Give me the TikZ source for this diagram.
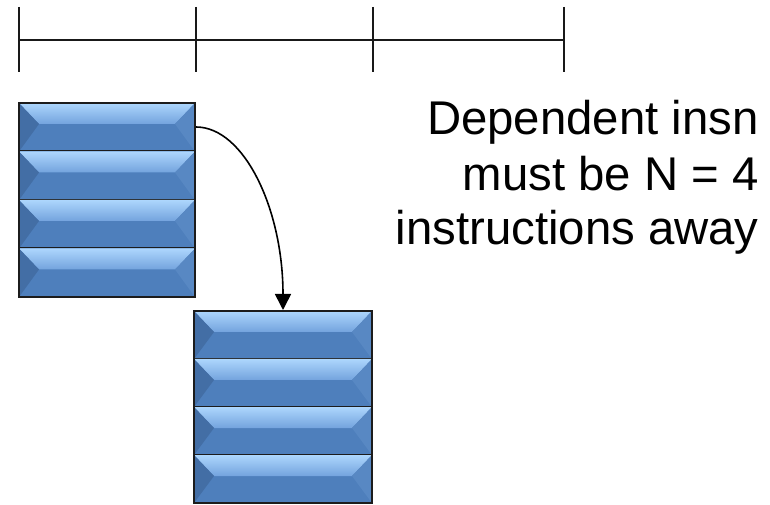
\documentclass[tikz,border=0pt]{standalone}
\usepackage{fontspec}
\setmainfont{Liberation Sans}
\usetikzlibrary{arrows.meta}

\definecolor{bevtop}{HTML}{ADD6FD}
\definecolor{bevtopend}{HTML}{73A3DD}
\definecolor{bevmid}{HTML}{4E7FBC}
\definecolor{bevleft}{HTML}{436EA5}
\definecolor{bevright}{HTML}{5888C3}
\definecolor{framecol}{HTML}{1C1C1C}

% one bevelled row: #1,#2 = top-left, #3,#4 = bottom-right (pixel units)
\newcommand{\bevelrow}[4]{%
  \fill[bevmid] (#1,#2) rectangle (#3,#4);
  \shade[top color=bevtop, bottom color=bevtopend]
    (#1,#2) -- (#3,#2) -- (#3-20,#2+21) -- (#1+20,#2+21) -- cycle;
  \fill[bevleft] (#1,#2) -- (#1+20,#2+21) -- (#1,#4) -- cycle;
  \fill[bevright] (#3,#2) -- (#3-20,#2+21) -- (#3,#4) -- cycle;
  \draw[rowline] (#1,#4) -- (#3,#4);
}

% stack of four rows: #1,#2 = top-left, #3 = right edge, #4 = row height
\newcommand{\insnstack}[4]{%
  \foreach \k in {0,1,2,3} {
    \bevelrow{#1}{#2+\k*#4}{#3}{#2+\k*#4+#4}
  }
  \draw[blockframe] (#1,#2) rectangle (#3,#2+4*#4);
}

\begin{document}
\begin{tikzpicture}[x=0.75pt, y=-0.75pt,
  timeline/.style={line width=1.6pt, draw=black!90},
  rowline/.style={line width=1.6pt, draw=framecol},
  blockframe/.style={line width=2.2pt, draw=framecol},
  depedge/.style={line width=1.2pt, -{Triangle[length=12pt, width=12pt]}},
  label/.style={font=\fontsize{35.5}{40}\selectfont, inner sep=0pt, anchor=base east}]

  \useasboundingbox (0,0) rectangle (770,505);

  % cycle timeline
  \coordinate (t0) at (19,40);
  \coordinate (t1) at (196,40);
  \coordinate (t2) at (373,40);
  \coordinate (t3) at (564,40);
  \draw[timeline] (t0) -- (t3);
  \foreach \t in {t0,t1,t2,t3}
    \draw[timeline] (\t) ++(0,-33) -- ++(0,65);

  % producing and consuming instruction groups
  \insnstack{19}{103}{195}{48.5}
  \insnstack{194}{311}{372}{48}

  \coordinate (src) at (196,127);
  \coordinate (dst) at (283,310);
  \draw[depedge] (src) .. controls (244,127) and (283,209) .. (dst);

  \node[label] (l1) at (759,135) {Dependent insn};
  \node[label] (l2) at (759,191) {must be N = 4};
  \node[label] (l3) at (759,245) {instructions away};
\end{tikzpicture}
\end{document}
